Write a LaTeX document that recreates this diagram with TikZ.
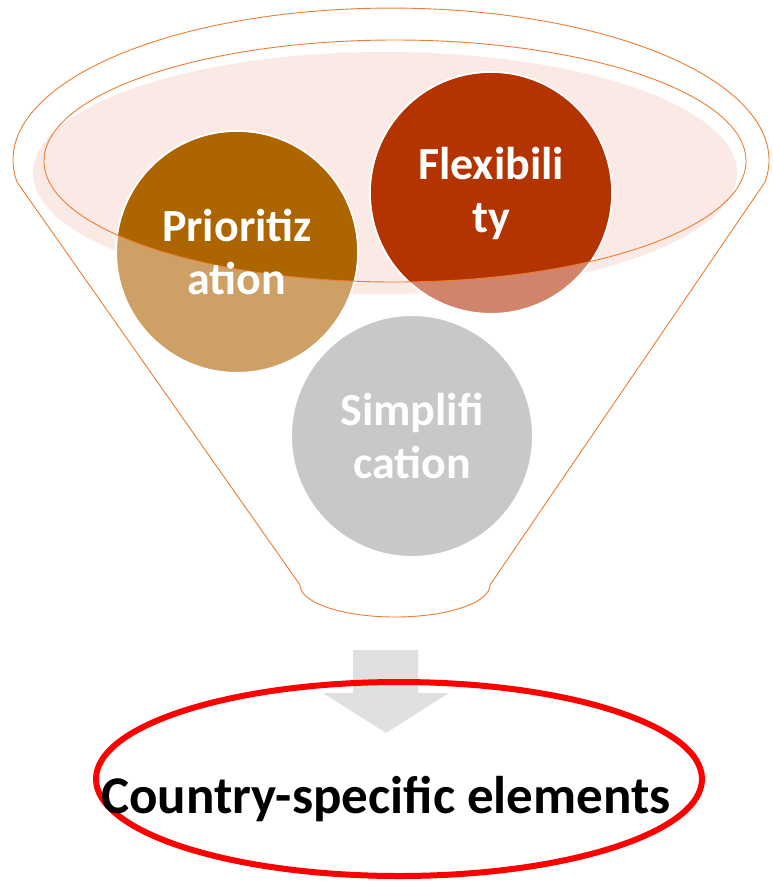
\documentclass[tikz,border=0pt]{standalone}
\usepackage{fontspec}
\setmainfont{Carlito}
\usetikzlibrary{shapes.geometric}
\definecolor{funnelline}{RGB}{237,125,49}
\definecolor{rimpink}{RGB}{251,233,229}
\definecolor{prioDark}{RGB}{173,101,0}
\definecolor{prioLight}{RGB}{206,160,102}
\definecolor{flexDark}{RGB}{179,52,0}
\definecolor{flexLight}{RGB}{210,132,106}
\definecolor{simpGray}{RGB}{200,200,200}
\definecolor{arrowGray}{RGB}{224,224,224}
\begin{document}
\begin{tikzpicture}[x=1pt,y=-1pt,
  funnel/.style={draw=funnelline,line width=0.9pt},
  ball/.style={circle,minimum size=242pt,inner sep=0pt,draw=white,line width=2pt},
  balltext/.style={text=white,font=\bfseries\fontsize{46}{53}\selectfont,align=center},
  goaltext/.style={text=black,font=\bfseries\fontsize{53}{60}\selectfont}]
\useasboundingbox (0,0) rectangle (772,881);
% funnel body
\draw[funnel,fill=white] (300,585) -- (17,182)
  arc[start angle=171.7,end angle=368.3,x radius=378,y radius=152]
  -- (490,585)
  arc[start angle=0,end angle=180,x radius=95,y radius=32] -- cycle;
% pink rim
\fill[rimpink] (385,173) ellipse[x radius=352,y radius=121];
% balls, light colours
\node[ball,fill=prioLight] (prio) at (237,252) {};
\node[ball,fill=flexLight] (flex) at (491,193) {};
\node[ball,fill=simpGray] (simp) at (412,436) {};
% dark parts inside rim
\begin{scope}
  \clip (395,161) ellipse[x radius=351,y radius=121];
  \fill[prioDark] (prio.center) circle[radius=120];
  \fill[flexDark] (flex.center) circle[radius=120];
\end{scope}
\draw[funnel] (395,161) ellipse[x radius=351,y radius=121];
% labels
\node[balltext] (prioL) at (prio.center) {Prioritiz\\ation};
\node[balltext] (flexL) at (flex.center) {Flexibili\\ty};
\node[balltext] (simpL) at (simp.center) {Simplifi\\cation};
% down arrow
\fill[arrowGray] (353,650) -- (418,650) -- (418,693) -- (449,693)
  -- (386,733) -- (323,693) -- (353,693) -- cycle;
% result
\node[ellipse,draw=red,line width=6pt,minimum width=606pt,minimum height=194pt,inner sep=0pt] (goal) at (399,779) {};
\node[goaltext,anchor=base] (goalL) at (386,813) {Country-specific elements};
\end{tikzpicture}
\end{document}
